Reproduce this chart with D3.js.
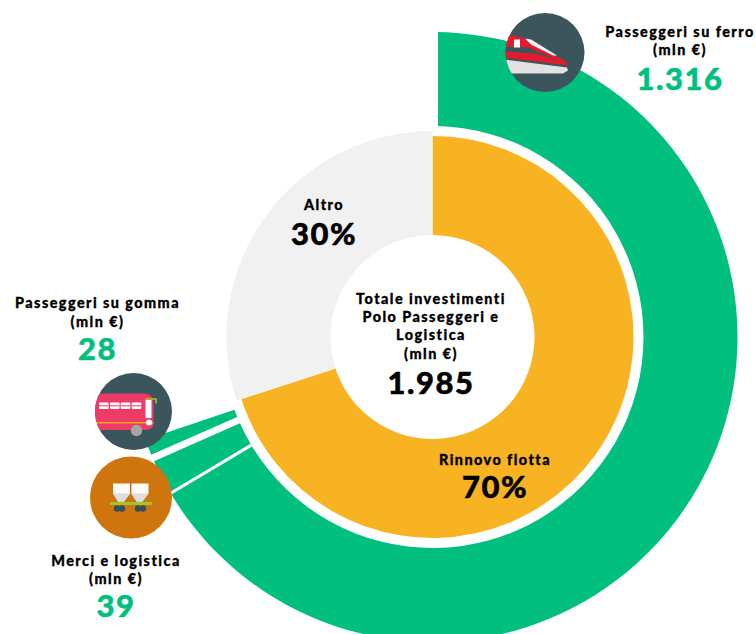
<!DOCTYPE html>
<html><head><meta charset="utf-8">
<script src="https://cdnjs.cloudflare.com/ajax/libs/d3/7.8.5/d3.min.js"></script>
<style>html,body{margin:0;padding:0;background:#fff;overflow:hidden}
svg{display:block}
text{font-family:Lato,sans-serif;font-weight:900;fill:#000;text-anchor:middle}
</style></head><body>
<svg id="c" width="756" height="634"></svg>
<script>
const shareLabels = ["Rinnovo flotta","Altro"];
const shareValues = [70,30];
const shareColors = ["#f8b323","#f1f1f1"];
const fleetLabels = ["Passeggeri su ferro","Merci e logistica","Passeggeri su gomma"];
const fleetValues = [1316,39,28];
const totalValue = 1985;
const totalLines = ["Totale investimenti","Polo Passeggeri e","Logistica","(mln €)"];
const unitLabel = "(mln €)";
const GREEN="#00bf7f";
const svg=d3.select("#c");
const cx=432.5, cy=337;
const g=svg.append("g").attr("transform",`translate(${cx},${cy})`);

// outer ring: angles proportional to the grand total
const angle=d3.scaleLinear().domain([0,totalValue]).range([0,2*Math.PI]);
const offset=0.5*Math.PI/180;
let run=0;
const outer=fleetValues.map((v,i)=>{const s=angle(run);run+=v;return {i,value:v,startAngle:s+offset,endAngle:angle(run)+offset};});
const padPx=[3,3,11];
const arcOuter=d3.arc().innerRadius(211).outerRadius(305).padRadius(100)
  .padAngle(d=>padPx[d.i]/100);
g.selectAll("path.outer").data(outer).join("path").attr("class","outer")
  .attr("d",arcOuter).attr("fill",GREEN);
// white notch that gives the first sector its vertical edge at 12 o'clock
g.append("rect").attr("x",-6).attr("y",-320).attr("width",11.5).attr("height",110).attr("fill","#fff");

// inner donut
const pie=d3.pie().sort(null)(shareValues);
const outerR=[201,206];
const arcInner=d3.arc().innerRadius(102).outerRadius((d)=>outerR[d.index]);
g.selectAll("path.inner").data(pie).join("path").attr("class","inner")
  .attr("d",arcInner).attr("fill",(d,i)=>shareColors[i]);

function txt(x,y,s,size,fill,ls){svg.append("text").attr("x",x).attr("y",y).attr("font-size",size)
  .style("letter-spacing",(ls||0)+"px").style("fill",fill||"#000")
  .style("stroke",fill||"#000").style("stroke-width",size>20?0.5:0.3).text(s);}
const fmt=v=>v>=1000?d3.format(",")(v).replace(",","."):String(v);
const sm=14.4, bg=31, lsS=1.45, lsB=1.5;
// centre
totalLines.forEach((t,i)=>txt(431,304+i*18.2,t,sm,"#000",lsS));
txt(431,394,fmt(totalValue),bg,"#000",lsB);
// shares
txt(324,210,shareLabels[1],sm,"#000",lsS); txt(324,245,shareValues[1]+"%",bg,"#000",lsB);
txt(495,465,shareLabels[0],sm,"#000",lsS); txt(495,498,shareValues[0]+"%",bg,"#000",lsB);
// callouts
txt(680,37,fleetLabels[0],sm,"#000",lsS); txt(680,55,unitLabel,sm,"#000",lsS); txt(680,90,fmt(fleetValues[0]),bg,GREEN,lsB);
txt(97.5,308,fleetLabels[2],sm,"#000",lsS); txt(97.5,327,unitLabel,sm,"#000",lsS); txt(97.5,360,fmt(fleetValues[2]),bg,GREEN,lsB);
txt(116,566,fleetLabels[1],sm,"#000",lsS); txt(116,584,unitLabel,sm,"#000",lsS); txt(116,617,fmt(fleetValues[1]),bg,GREEN,lsB);

// icons
const defs=svg.append("defs");
function icon(x,y,r,fill,id){
  defs.append("clipPath").attr("id",id).append("circle").attr("r",r);
  const ig=svg.append("g").attr("transform",`translate(${x},${y})`);
  ig.append("circle").attr("r",r).attr("fill",fill);
  return ig.append("g").attr("clip-path",`url(#${id})`);
}
// train
const t=icon(545,52.5,39.5,"#3a555c","ic1");
t.append("path").attr("fill","#e31b2c").attr("d","M-40,-19 L-23,-15 L21,9 L23,13 L-40,5Z");
t.append("path").attr("fill","#3a555c").attr("d","M-40,-6 L-17,-5 L14,8 L-10,1 L-40,-1Z");
t.append("path").attr("fill","#f4f4f4").attr("d","M-20,-14 L-14,-13 L12,3 L8,3 L-14,-8Z");
t.append("rect").attr("x",-31).attr("y",-13).attr("width",6).attr("height",8).attr("fill","#fff");
t.append("path").attr("fill","#e2e2e2").attr("d","M-40,7 L22,15 L23,18 L18,21 L-40,21Z");
// bus
const b=icon(133.5,411.5,38.5,"#3a555c","ic2");
b.append("path").attr("fill","#ec3b66").attr("d","M-40,-18 H10 Q20,-18 20,-8 V12 Q20,18.5 12,18.5 H-40Z");
[-34.5,-23.5,-12.8,-1.8].forEach(x=>{
  b.append("rect").attr("x",x).attr("y",-9).attr("width",9.6).attr("height",6.5).attr("rx",1).attr("fill","#fff");
  b.append("rect").attr("x",x).attr("y",-6.2).attr("width",9.6).attr("height",1).attr("fill","#ec3b66");
});
b.append("rect").attr("x",-40).attr("y",10.5).attr("width",60).attr("height",1.5).attr("fill","#f7a21b");
b.append("rect").attr("x",12).attr("y",-11.5).attr("width",6).attr("height",18).attr("fill","#fff");
b.append("circle").attr("cx",15.5).attr("cy",11).attr("r",3).attr("fill","#fff");
b.append("path").attr("fill","none").attr("stroke","#b7c22f").attr("stroke-width",1.5).attr("d","M12,-12.5 H22.5 V-8");
b.append("circle").attr("cx",3).attr("cy",19).attr("r",5.7).attr("fill","#a5a5a5");
// freight
const m=icon(131,497.5,41,"#cf750e","ic3");
[-18,0.5].forEach(x=>{
  m.append("path").attr("fill","#fbfbfb").attr("d",`M${x},-14 H${x+17} V-4 L${x+11},4 H${x+5} L${x},-4Z`);
  m.append("path").attr("fill","#dedede").attr("d",`M${x},-4 H${x+17} L${x+11},4 H${x+5}Z`);
});
m.append("rect").attr("x",-21).attr("y",4.5).attr("width",42).attr("height",3).attr("fill","#9fc42c");
[-14,-9,7,12].forEach(x=>m.append("circle").attr("cx",x).attr("cy",11).attr("r",3.2).attr("fill","#33505a"));
</script></body></html>
